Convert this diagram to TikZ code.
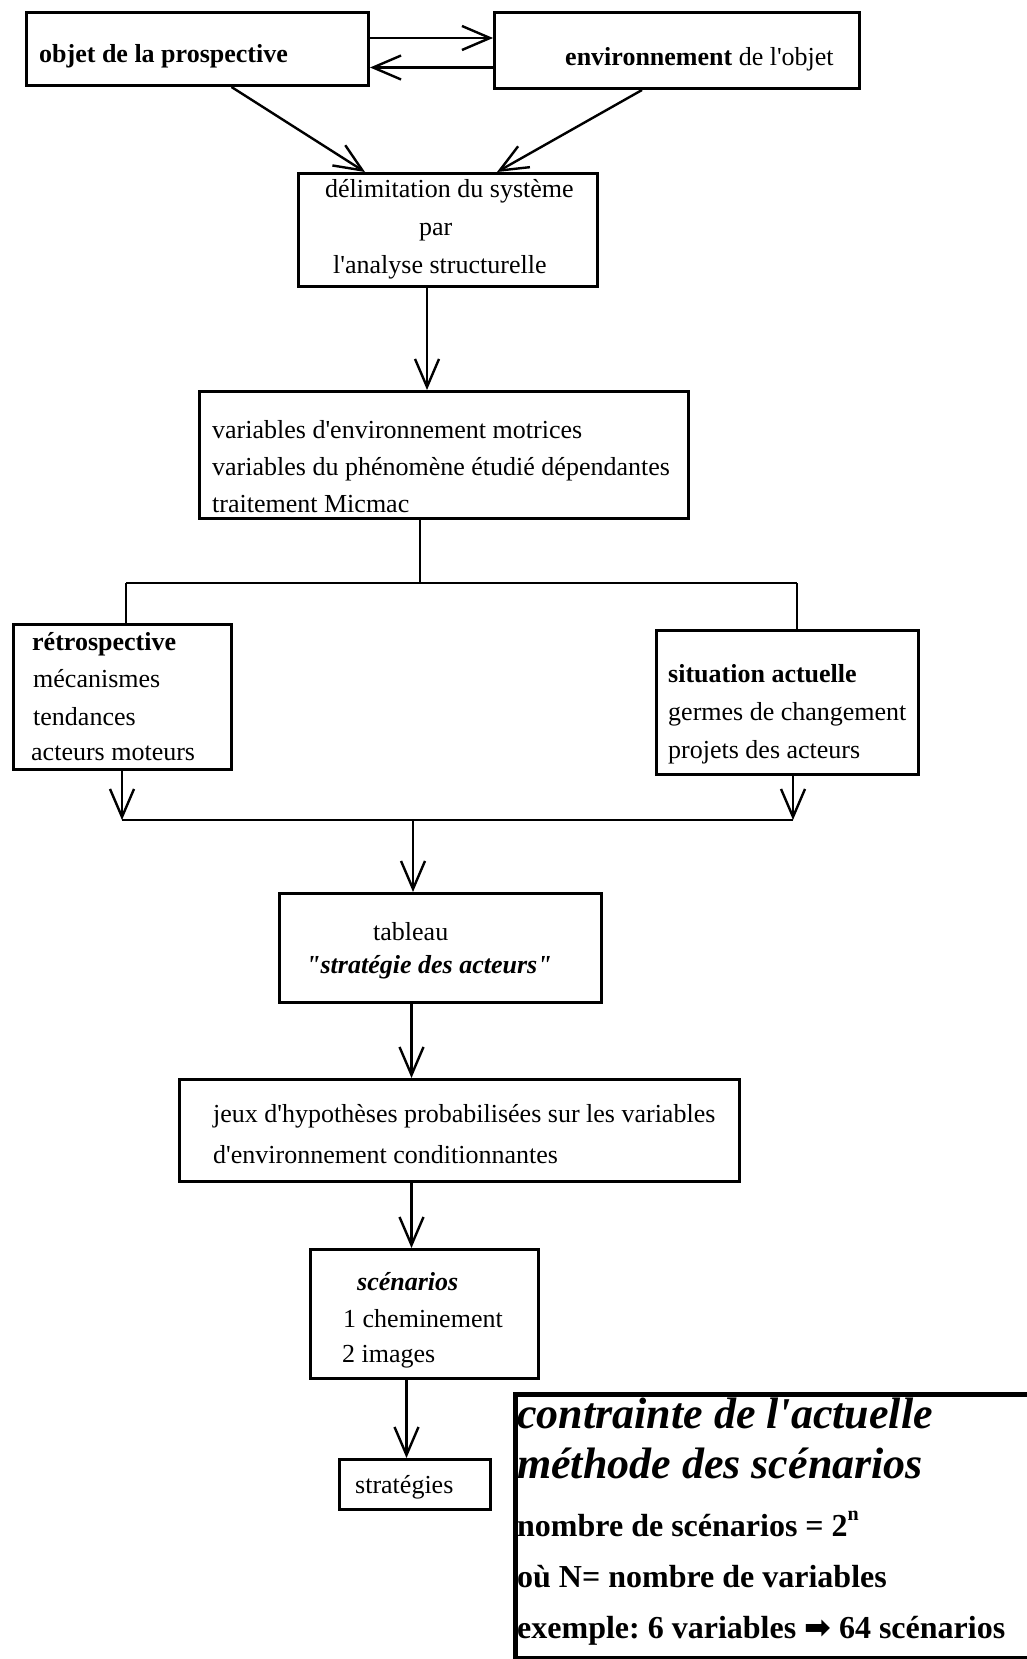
\documentclass[tikz,border=0pt]{standalone}
\usepackage{fontspec}
\setmainfont{Liberation Serif}[Ligatures=TeXOff]
\newfontfamily\symfont{DejaVu Sans}
\usetikzlibrary{arrows.meta,calc}
\frenchspacing
\begin{document}
\begin{tikzpicture}[x=1pt,y=-1pt,
  box/.style={draw,line width=3pt,inner sep=0pt,anchor=north west},
  conn/.style={line width=2.4pt},
  arr/.style={conn,-{Straight Barb[length=28pt,width=24pt,line width=2.4pt]}},
  txt/.style={anchor=base west,inner sep=0pt,font=\fontsize{26}{30}\selectfont},
  bigtxt/.style={anchor=base west,inner sep=0pt,font=\fontsize{44}{48}\selectfont\bfseries\itshape},
  midtxt/.style={anchor=base west,inner sep=0pt,font=\fontsize{32}{36}\selectfont\bfseries}]
\useasboundingbox (0,0) rectangle (1026,1659);

% boxes
\node[box,minimum width=342pt,minimum height=73pt] (b1) at (25,11) {};
\node[box,minimum width=365pt,minimum height=76pt] (b2) at (493,11) {};
\node[box,minimum width=299pt,minimum height=113pt] (b3) at (297,172) {};
\node[box,minimum width=489pt,minimum height=127pt] (b4) at (198,390) {};
\node[box,minimum width=218pt,minimum height=145pt] (b5) at (12,623) {};
\node[box,minimum width=262pt,minimum height=144pt] (b6) at (655,629) {};
\node[box,minimum width=322pt,minimum height=109pt] (b7) at (278,892) {};
\node[box,minimum width=560pt,minimum height=102pt] (b8) at (178,1078) {};
\node[box,minimum width=228pt,minimum height=129pt] (b9) at (309,1248) {};
\node[box,minimum width=151pt,minimum height=50pt] (b10) at (338,1458) {};
\node[box,line width=5pt,minimum width=530pt,minimum height=264pt] (b11) at (513,1392) {};

% texts
\node[txt] (t1) at (39,63) {\bfseries objet de la prospective};
\node[txt] (t2) at (565,66) {\bfseries environnement\mdseries{} de l'objet};
\node[txt] (t3a) at (325,197) {délimitation du système};
\node[txt] (t3b) at (419,235) {par};
\node[txt] (t3c) at (333,273) {l'analyse structurelle};
\node[txt] (t4a) at (212,438) {variables d'environnement motrices};
\node[txt] (t4b) at (212,475) {variables du phénomène étudié dépendantes};
\node[txt] (t4c) at (212,512) {traitement Micmac};
\node[txt] (t5a) at (32,650) {\bfseries rétrospective};
\node[txt] (t5b) at (33,687) {mécanismes};
\node[txt] (t5c) at (33,725) {tendances};
\node[txt] (t5d) at (31,760) {acteurs moteurs};
\node[txt] (t6a) at (668,682) {\bfseries situation actuelle};
\node[txt] (t6b) at (668,720) {germes de changement};
\node[txt] (t6c) at (668,758) {projets des acteurs};
\node[txt] (t7a) at (373,940) {tableau};
\node[txt] (t7b) at (306,973) {\bfseries\itshape "stratégie des acteurs"};
\node[txt] (t8a) at (213,1122) {jeux d'hypothèses probabilisées sur les variables};
\node[txt] (t8b) at (213,1163) {d'environnement conditionnantes};
\node[txt] (t9a) at (357,1290) {\bfseries\itshape scénarios};
\node[txt] (t9b) at (343,1327) {1 cheminement};
\node[txt] (t9c) at (342,1362) {2 images};
\node[txt] (t10) at (355,1493) {stratégies};
\node[bigtxt] (t11a) at (517,1428) {contrainte de l'actuelle};
\node[bigtxt] (t11b) at (517,1478) {méthode des scénarios};
\node[midtxt] (t11c) at (517,1536) {nombre de scénarios = 2\raisebox{0.5em}{\fontsize{20}{20}\selectfont n}};
\node[midtxt] (t11d) at (517,1587) {où N= nombre de variables};
\node[midtxt] (t11e) at (517,1638) {exemple: 6 variables {\symfont ➡} 64 scénarios};

% connectors
\draw[arr] ([yshift=11pt]b1.east) -- ([yshift=11pt]b1.east -| b2.west);
\draw[arr] ([yshift=-17pt]b2.west) -- ([yshift=-17pt]b2.west -| b1.east);
\draw[arr] ([xshift=34pt]b1.south) -- ([xshift=-83pt]b3.north);
\draw[arr] ([xshift=-35pt]b2.south) -- ([xshift=49pt]b3.north);
\draw[arr] ([xshift=-21pt]b3.south) -- ([xshift=-21pt]b3.south |- b4.north);

\coordinate (jt) at (420,583);
\coordinate (jl) at (126,583);
\coordinate (jr) at (797,583);
\draw[conn] (b4.south -| jt) -- (jt);
\draw[conn] (jl) -- (jr);
\draw[conn] (jl) -- (jl |- b5.north);
\draw[conn] (jr) -- (jr |- b6.north);

\coordinate (ml) at (122,820);
\coordinate (mr) at (793,820);
\coordinate (mt) at (413,820);
\draw[arr] (b5.south -| ml) -- (ml);
\draw[arr] (b6.south -| mr) -- (mr);
\draw[conn] (ml) -- (mr);
\draw[arr] (mt) -- (mt |- b7.north);

\draw[arr] ([xshift=-29pt]b7.south) -- ([xshift=-29pt]b7.south |- b8.north);
\draw[arr] ([xshift=-48pt]b8.south) -- ([xshift=-48pt]b8.south |- b9.north);
\draw[arr] ([xshift=-18pt]b9.south) -- ([xshift=-18pt]b9.south |- b10.north);
\end{tikzpicture}
\end{document}
